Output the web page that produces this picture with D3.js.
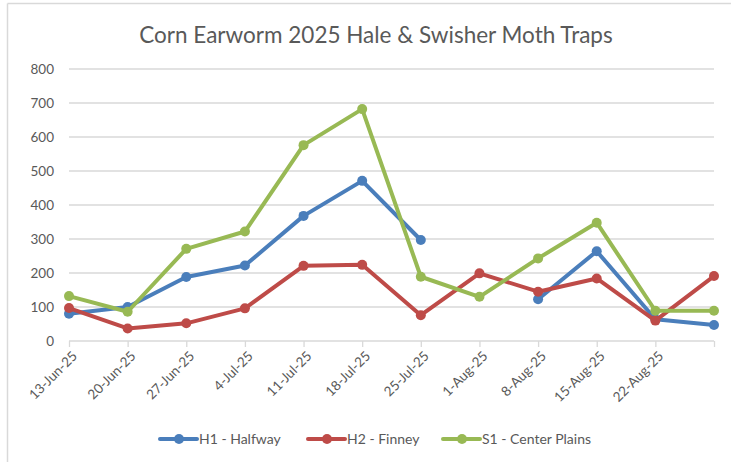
<!DOCTYPE html>
<html>
<head>
<meta charset="utf-8">
<script src="https://d3js.org/d3.v7.min.js"></script>
<style>
  body { margin: 0; background: #fff; }
  svg text { font-family: Lato, "Open Sans", sans-serif; fill: #595959; }
</style>
</head>
<body>
<svg id="chart" width="731" height="462"></svg>
<script>
// trap dates (weekly), axis end one week after the last label
var dates = ["2025-06-13","2025-06-20","2025-06-27","2025-07-04","2025-07-11","2025-07-18",
             "2025-07-25","2025-08-01","2025-08-08","2025-08-15","2025-08-22","2025-08-29"];
var tickLabels = ["13-Jun-25","20-Jun-25","27-Jun-25","4-Jul-25","11-Jul-25","18-Jul-25",
                  "25-Jul-25","1-Aug-25","8-Aug-25","15-Aug-25","22-Aug-25"];
var seriesNames = ["H1 - Halfway","H2 - Finney","S1 - Center Plains"];
var h1 = [80, 100, 188, 222, 368, 471, 297, null, 123, 264, 64, 47];
var h2 = [97, 37, 52, 96, 221, 224, 76, 199, 145, 184, 60, 191];
var s1 = [132, 86, 271, 322, 576, 682, 189, 130, 243, 348, 89, 89];
var yTicks = [0, 100, 200, 300, 400, 500, 600, 700, 800];
var colors = ["#4a7ebb", "#be4b48", "#98b954"];

var parse = d3.timeParse("%Y-%m-%d");
var svg = d3.select("#chart");

// outer chart border (only left and top show in the crop)
svg.append("line").attr("x1", 7.5).attr("y1", 3.5).attr("x2", 731).attr("y2", 3.5)
  .style("stroke", "#d9d9d9").style("stroke-width", 1.5);
svg.append("line").attr("x1", 7.5).attr("y1", 3.5).attr("x2", 7.5).attr("y2", 462)
  .style("stroke", "#d9d9d9").style("stroke-width", 1.5);

svg.append("text")
  .attr("x", 376).attr("y", 43)
  .attr("text-anchor", "middle")
  .attr("font-size", 22.5)
  .text("Corn Earworm 2025 Hale & Swisher Moth Traps");

var x = d3.scaleTime()
  .domain([parse(dates[0]), parse(dates[dates.length - 1])])
  .range([69, 714]);
var y = d3.scaleLinear().domain([0, 800]).range([341, 69]);

// gridlines
svg.append("g").selectAll("line")
  .data(yTicks.slice(1))
  .enter().append("line")
    .attr("x1", 69).attr("x2", 714)
    .attr("y1", function(d){ return y(d); })
    .attr("y2", function(d){ return y(d); })
    .style("stroke", "#d9d9d9").style("stroke-width", 1.3);

// y labels
svg.append("g").selectAll("text")
  .data(yTicks)
  .enter().append("text")
    .attr("x", 54)
    .attr("y", function(d){ return y(d) + 4.5; })
    .attr("text-anchor", "end")
    .attr("font-size", 13.5)
    .text(function(d){ return d; });

// x axis
var tickDates = dates.map(parse);
var xAxis = svg.append("g").attr("transform", "translate(0," + y(0) + ")")
  .call(d3.axisBottom(x).tickValues(tickDates).tickSize(6).tickFormat(""));
xAxis.select(".domain").attr("d", "M69,0H714").style("stroke", "#d9d9d9").style("stroke-width", 1.3);
xAxis.selectAll(".tick line").style("stroke", "#d9d9d9").style("stroke-width", 1.3);

svg.append("g").selectAll("text")
  .data(tickLabels)
  .enter().append("text")
    .attr("text-anchor", "end")
    .attr("font-size", 13.5)
    .attr("transform", function(d, i){
      return "translate(" + (x(tickDates[i]) + 9) + "," + (y(0) + 16) + ") rotate(-45)";
    })
    .text(function(d){ return d; });

// series
var allSeries = [h1, h2, s1];
var line = d3.line()
  .defined(function(d){ return d != null; })
  .x(function(d, i){ return x(tickDates[i]); })
  .y(function(d){ return y(d); });

allSeries.forEach(function(vals, k){
  var g = svg.append("g");
  g.append("path")
    .datum(vals)
    .attr("d", line)
    .style("fill", "none")
    .style("stroke", colors[k])
    .style("stroke-width", 4)
    .style("stroke-linejoin", "round")
    .style("stroke-linecap", "round");
  g.selectAll("circle")
    .data(vals.map(function(v, i){ return {v: v, i: i}; }).filter(function(d){ return d.v != null; }))
    .enter().append("circle")
      .attr("cx", function(d){ return x(tickDates[d.i]); })
      .attr("cy", function(d){ return y(d.v); })
      .attr("r", 5)
      .style("fill", colors[k]);
});

// legend
var legendX = [160, 308, 443];
seriesNames.forEach(function(name, k){
  var lg = svg.append("g").attr("transform", "translate(" + legendX[k] + ",439)");
  lg.append("line").attr("x1", 0).attr("x2", 37).attr("y1", 0).attr("y2", 0)
    .style("stroke", colors[k]).style("stroke-width", 4).style("stroke-linecap", "round");
  lg.append("circle").attr("cx", 19).attr("cy", 0).attr("r", 5).style("fill", colors[k]);
  lg.append("text").attr("x", 39).attr("y", 5).attr("font-size", 14).text(name);
});
</script>
</body>
</html>
